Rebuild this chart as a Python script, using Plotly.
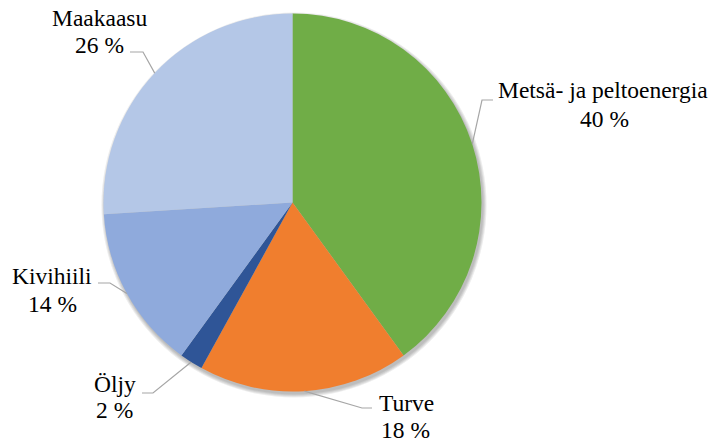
import math
import plotly.graph_objects as go

# Energy sources and their shares (%)
labels = ["Metsä- ja peltoenergia", "Turve", "Öljy", "Kivihiili", "Maakaasu"]
shares = [40, 18, 2, 14, 26]
colors = ["#70AD47", "#F07E2E", "#2F5597", "#8FAADC", "#B4C7E7"]

W, H = 716, 443
FONT = "Liberation Serif"
FS = 23.5

# pie placement in pixels
CX, CY, R = 292.5, 202.5, 189

# label placement in pixels: name baseline, value baseline, leader elbow and end
label_pos = {
    "Metsä- ja peltoenergia": dict(name=(603, 98), value=(604, 127), elbow=(482, 100), end=(493, 100)),
    "Turve": dict(name=(406, 411), value=(405, 438), elbow=(362, 408), end=(372, 408)),
    "Öljy": dict(name=(115, 392), value=(114, 418), elbow=(153, 393), end=(142, 393)),
    "Kivihiili": dict(name=(52, 284), value=(52, 312), elbow=(110, 283), end=(98, 283)),
    "Maakaasu": dict(name=(100, 26), value=(99.5, 53), elbow=(143, 52), end=(130, 52)),
}


def px(x):
    return x / W


def py(y):
    return 1 - y / H


def domain(cx, cy, r):
    return dict(x=[px(cx - r), px(cx + r)], y=[py(cy + r), py(cy - r)])


fig = go.Figure()

# soft drop shadow: stacked translucent discs slightly offset down-right
for d in (0.5, 1.5, 2.5, 3.5):
    fig.add_trace(go.Pie(
        values=[1], labels=["shadow"], sort=False, textinfo="none", hoverinfo="skip",
        marker=dict(colors=["rgba(0,0,0,0.07)"], line=dict(width=0)),
        domain=domain(CX + 1.5, CY + 2.5, R + d), showlegend=False,
    ))

fig.add_trace(go.Pie(
    labels=labels,
    values=shares,
    sort=False,
    direction="clockwise",
    rotation=0,
    marker=dict(colors=colors, line=dict(width=0)),
    textinfo="none",
    hoverinfo="label+percent",
    domain=domain(CX, CY, R),
    showlegend=False,
))

annotations = []
shapes = []
total = sum(shares)
cum = 0
for lab, val in zip(labels, shares):
    mid = (cum + val / 2) / total * 2 * math.pi
    cum += val
    ex = CX + R * math.sin(mid)
    ey = CY - R * math.cos(mid)
    p = label_pos[lab]
    pts = [(ex, ey), p["elbow"], p["end"]]
    path = "M " + " L ".join(f"{px(a)},{py(b)}" for a, b in pts)
    shapes.append(dict(type="path", xref="paper", yref="paper", path=path,
                       line=dict(color="#A6A6A6", width=1.2)))
    for txt, (tx, ty) in ((lab, p["name"]), (f"{val} %", p["value"])):
        annotations.append(dict(
            x=px(tx), y=py(ty - 0.33 * FS), xref="paper", yref="paper",
            text=txt, showarrow=False, xanchor="center", yanchor="middle",
            font=dict(family=FONT, size=FS, color="#000000"),
        ))

fig.update_layout(
    width=W, height=H,
    margin=dict(l=0, r=0, t=0, b=0),
    paper_bgcolor="white", plot_bgcolor="white",
    font=dict(family=FONT, color="#000000"),
    annotations=annotations,
    shapes=shapes,
)

fig.write_html("out.html")
